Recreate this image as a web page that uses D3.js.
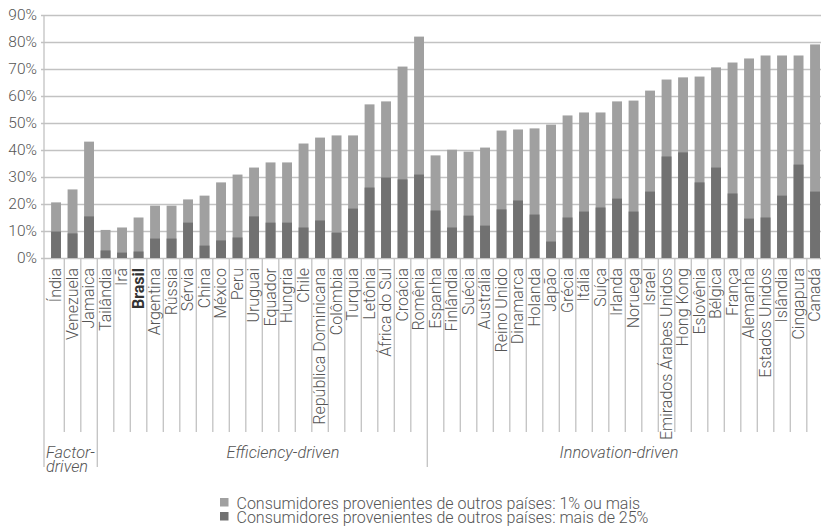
<!DOCTYPE html>
<html>
<head>
<meta charset="utf-8">
<script src="https://cdn.jsdelivr.net/npm/d3@7"></script>
<style>
  html, body { margin: 0; padding: 0; background: #fff; }
  svg { display: block; font-family: Roboto, "Liberation Sans", sans-serif; font-weight: 300; }
</style>
</head>
<body>
<svg id="chart" width="821" height="532"></svg>
<script>
// Países, em ordem de apresentação
const countries = [
  "Índia", "Venezuela", "Jamaica",
  "Tailândia", "Irã", "Brasil", "Argentina", "Rússia", "Sérvia", "China", "México",
  "Peru", "Uruguai", "Equador", "Hungria", "Chile", "República Dominicana", "Colômbia",
  "Turquia", "Letônia", "África do Sul", "Croácia", "Romênia",
  "Espanha", "Finlândia", "Suécia", "Austrália", "Reino Unido", "Dinamarca", "Holanda",
  "Japão", "Grécia", "Itália", "Suíça", "Irlanda", "Noruega", "Israel",
  "Emirados Árabes Unidos", "Hong Kong", "Eslovênia", "Bélgica", "França", "Alemanha",
  "Estados Unidos", "Islândia", "Cingapura", "Canadá"
];

// % de empreendedores com consumidores de outros países: 1% ou mais
const shareAtLeast1 = [
  20.6, 25.4, 43.1,
  10.4, 11.3, 15.0, 19.4, 19.4, 21.7, 23.1, 28.0,
  30.9, 33.5, 35.4, 35.4, 42.4, 44.6, 45.4,
  45.4, 56.9, 58.0, 70.9, 82.0,
  38.0, 40.1, 39.4, 40.9, 47.2, 47.6, 48.0,
  49.4, 52.8, 53.9, 53.9, 58.0, 58.3, 62.0,
  66.1, 66.9, 67.2, 70.6, 72.4, 73.9,
  75.0, 75.0, 75.0, 79.1
];

// % de empreendedores com consumidores de outros países: mais de 25%
const shareOver25 = [
  9.8, 9.1, 15.4,
  2.8, 2.0, 2.4, 7.2, 7.2, 13.1, 4.6, 6.5,
  7.6, 15.4, 13.1, 13.1, 11.3, 13.9, 9.4,
  18.3, 26.1, 29.8, 29.1, 30.9,
  17.6, 11.3, 15.7, 12.0, 18.0, 21.3, 16.1,
  6.1, 15.0, 17.2, 18.7, 22.0, 17.2, 24.6,
  37.6, 39.1, 28.0, 33.5, 23.9, 14.6,
  15.0, 23.1, 34.6, 24.6
];

const highlighted = ["Brasil"];

// Estágios de desenvolvimento econômico: primeiro país de cada grupo e rótulo
const groupFirst = ["Índia", "Tailândia", "Espanha"];
const groupLabels = [["Factor-", "driven"], ["Efficiency-driven"], ["Innovation-driven"]];

const yTicks = [0, 10, 20, 30, 40, 50, 60, 70, 80, 90];

const legendLabels = [
  "Consumidores provenientes de outros países: 1% ou mais",
  "Consumidores provenientes de outros países: mais de 25%"
];

const colLight = "#a0a0a0";
const colDark = "#717171";
const colGrid = "#c2c2c2";
const colText = "#555555";

const svg = d3.select("#chart");
const axisX = 44;
const plotTop = 15, plotBottom = 258;

const x = d3.scaleBand()
  .domain(countries)
  .range([47.8, 823.3])
  .paddingInner(0.4)
  .paddingOuter(0.2);

const y = d3.scaleLinear().domain([0, 90]).range([plotBottom, plotTop]);

const step = x.step();
const boundary = c => x(c) - step * x.paddingInner() / 2;

// Linhas de grade e rótulos do eixo Y
const yAxis = d3.axisLeft(y)
  .tickValues(yTicks)
  .tickFormat(d => d + "%")
  .tickSize(-(821 - 41))
  .tickPadding(4);

const gy = svg.append("g")
  .attr("transform", `translate(41,0)`)
  .call(yAxis);
gy.select(".domain").remove();
gy.selectAll(".tick line").attr("stroke", colGrid).attr("stroke-width", 1.6);
gy.selectAll(".tick text")
  .attr("fill", colText)
  .style("font-size", "15.5px")
  .style("font-family", "Roboto, 'Liberation Sans', sans-serif")
  .style("font-weight", 300);

// Barras: total (1% ou mais) com a parcela acima de 25% sobreposta
const bars = svg.append("g");
bars.selectAll("rect.light")
  .data(countries)
  .join("rect")
  .attr("class", "light")
  .attr("x", d => x(d))
  .attr("width", x.bandwidth())
  .attr("y", (d, i) => y(shareAtLeast1[i]))
  .attr("height", (d, i) => y(0) - y(shareAtLeast1[i]))
  .attr("fill", colLight);

bars.selectAll("rect.dark")
  .data(countries)
  .join("rect")
  .attr("class", "dark")
  .attr("x", d => x(d))
  .attr("width", x.bandwidth())
  .attr("y", (d, i) => y(shareOver25[i]))
  .attr("height", (d, i) => y(0) - y(shareOver25[i]))
  .attr("fill", colDark);

// Eixo vertical à esquerda, prolongado até a faixa dos grupos
svg.append("line")
  .attr("x1", axisX).attr("x2", axisX)
  .attr("y1", plotTop).attr("y2", 467)
  .attr("stroke", colGrid).attr("stroke-width", 1.3);

// Separadores entre países
const sepEnd = 432;
svg.append("g").selectAll("line")
  .data(countries.slice(1))
  .join("line")
  .attr("x1", d => boundary(d)).attr("x2", d => boundary(d))
  .attr("y1", plotBottom)
  .attr("y2", d => groupFirst.includes(d) ? 467 : sepEnd)
  .attr("stroke", colGrid)
  .attr("stroke-width", 1.3);

// Rótulos dos países (verticais)
svg.append("g").selectAll("text")
  .data(countries)
  .join("text")
  .attr("transform", d => `translate(${x(d) + x.bandwidth() / 2 - 0.5},268) rotate(-90)`)
  .attr("text-anchor", "end")
  .attr("dy", "0.36em")
  .attr("fill", d => highlighted.includes(d) ? "#333" : colText)
  .style("font-size", "16px")
  .style("font-weight", d => highlighted.includes(d) ? 700 : 300)
  .text(d => d);

// Rótulos dos grupos
const groupX = [axisX + 2, 283, 619];
groupLabels.forEach((lines, gi) => {
  const t = svg.append("text")
    .attr("fill", colText)
    .style("font-size", "16.3px")
    .style("font-style", "italic")
    .attr("text-anchor", gi === 0 ? "start" : "middle");
  lines.forEach((ln, li) => {
    t.append("tspan")
      .attr("x", groupX[gi])
      .attr("y", 458 + li * 13.5)
      .text(ln);
  });
});

// Legenda
const legend = svg.append("g").attr("transform", "translate(220,498)");
[colLight, colDark].forEach((c, i) => {
  legend.append("rect")
    .attr("x", 0).attr("y", i * 14)
    .attr("width", 8.5).attr("height", 8.5)
    .attr("fill", c);
  legend.append("text")
    .attr("x", 16.5).attr("y", i * 14 + 10.5)
    .attr("fill", colText)
    .style("font-size", "16px")
    .text(legendLabels[i]);
});
</script>
</body>
</html>
